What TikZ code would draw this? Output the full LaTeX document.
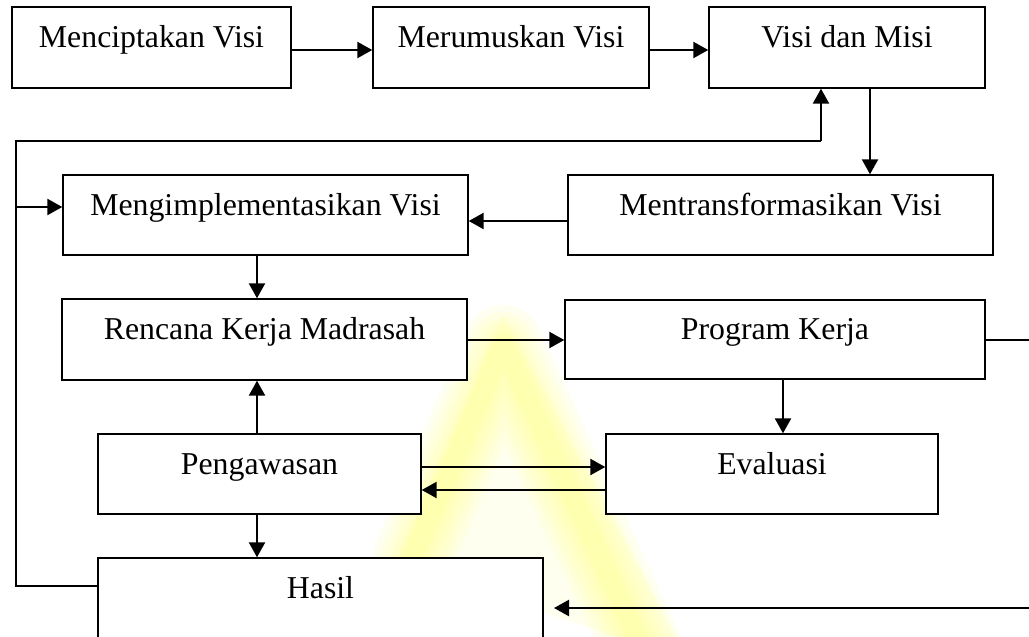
\documentclass[tikz,border=0pt]{standalone}
\usepackage{fontspec}
\setmainfont{Liberation Serif}
\usetikzlibrary{arrows.meta}
\definecolor{wmark}{HTML}{FFFF60}
\tikzset{
  box/.style={draw=black, fill=white, line width=1.4pt, inner sep=0pt,
    text height=10pt, text depth=10pt, font=\fontsize{31.8}{38}\selectfont},
  conn/.style={line width=2.3pt, draw=black},
  arr/.style={conn, -{Triangle[length=15pt,width=16pt]}},
  wm/.style={wmark, line join=round, line cap=round},
}
\begin{document}
\begin{tikzpicture}[x=1pt,y=-1pt]
\useasboundingbox (0,0) rectangle (1029,637);
\begin{scope}
\clip (0,0) rectangle (1029,637);
% watermark (faint yellow "A")
\fill[wmark, opacity=0.10] (503,315) -- (395,565) -- (690,660) -- cycle;
\foreach \w in {80,66,54,42,30,20} {
  \draw[wm, opacity=0.09, line width=\w pt] (412,560) -- (503,345) -- (650,665);
}

% boxes
\node[box, minimum width=279pt, minimum height=81pt] (b1) at (151.5,47.5) {Menciptakan Visi};
\node[box, minimum width=276pt, minimum height=81pt] (b2) at (511,47.5) {Merumuskan Visi};
\node[box, minimum width=276pt, minimum height=81pt] (b3) at (847,47.5) {Visi dan Misi};
\node[box, minimum width=425pt, minimum height=80pt] (b4) at (780.5,215) {Mentransformasikan Visi};
\node[box, minimum width=405pt, minimum height=80pt] (b5) at (265.5,215) {Mengimplementasikan Visi};
\node[box, minimum width=405pt, minimum height=81pt] (b6) at (264.5,339.5) {Rencana Kerja Madrasah};
\node[box, minimum width=420pt, minimum height=79pt] (b7) at (775,339.5) {Program Kerja};
\node[box, minimum width=323pt, minimum height=80pt] (b8) at (259.5,474) {Pengawasan};
\node[box, minimum width=332pt, minimum height=80pt] (b9) at (772,474) {Evaluasi};
\node[box, minimum width=445pt, minimum height=80pt] (b10) at (320.5,598) {Hasil};

% free ends and corners
\coordinate (pr) at (1029,340);
\coordinate (hr) at (1029,608);
\coordinate (ht) at (554,608);
\coordinate (l1) at (16,586);
\coordinate (l2) at (16,141);
\coordinate (l3) at (821,141);
\coordinate (lb) at (16,207);

% connectors
\draw[arr] (b1.east |- 0,50) -- (b2.west |- 0,50);
\draw[arr] (b2.east |- 0,50) -- (b3.west |- 0,50);
\draw[arr] (b3.south -| 870,0) -- (b4.north -| 870,0);
\draw[arr] (b4.west |- 0,221) -- (b5.east |- 0,221);
\draw[arr] (b5.south -| 257,0) -- (b6.north -| 257,0);
\draw[arr] (b6.east |- 0,340) -- (b7.west |- 0,340);
\draw[conn] (b7.east |- 0,340) -- (pr);
\draw[arr] (b7.south -| 783,0) -- (b9.north -| 783,0);
\draw[arr] (b8.east |- 0,467) -- (b9.west |- 0,467);
\draw[arr] (b9.west |- 0,490) -- (b8.east |- 0,490);
\draw[arr] (b8.north -| 257,0) -- (b6.south -| 257,0);
\draw[arr] (b8.south -| 257,0) -- (b10.north -| 257,0);
\draw[arr] (hr) -- (ht);
\draw[conn, line width=1.8pt] (b10.west |- l1) -- (l1) -- (l2) -- (l3);
\draw[arr] (l3) -- (b3.south -| l3);
\draw[arr] (lb) -- (b5.west |- lb);
\end{scope}
\end{tikzpicture}
\end{document}
